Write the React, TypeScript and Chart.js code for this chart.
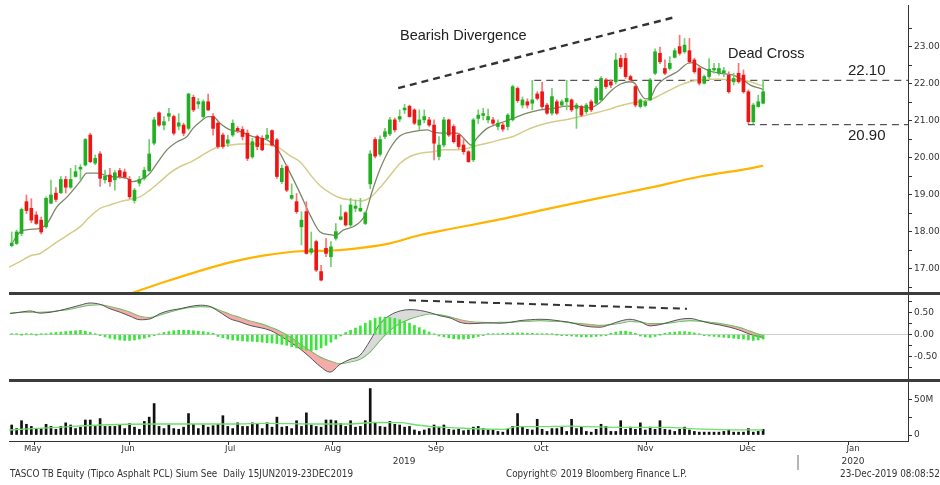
import React, { useEffect, useRef } from "react";
import { Chart, registerables } from "chart.js";

Chart.register(...registerables);

const FONT = '"DejaVu Sans", Verdana, sans-serif';
const ANNO_FONT = '"Liberation Sans", Arial, sans-serif';

// x axis is the trading-day index
const X_MIN = -0.55;
const X_MAX = 182.5;

// ---------- candles ----------
const opens = [
  17.63,17.69,17.96,18.82,18.64,18.46,18.32,18.14,18.78,19.05,
  19.06,19.42,19.21,19.5,19.70,19.81,20.62,19.86,20.11,19.41,
  19.54,19.41,19.66,19.62,19.42,18.85,19.32,19.45,19.66,20.4,
  21.22,20.89,21.13,21.12,20.86,20.89,20.8,21.64,21.46,21.12,
  21.52,21.12,20.94,20.62,20.4,20.62,20.8,20.77,20.67,20.03,
  20.58,20.53,20.53,20.74,20.49,19.36,19.77,18.91,18.82,18.14,
  18.55,17.45,17.74,16.93,17.56,17.33,17.83,18.34,18.52,18.19,
  18.64,18.57,18.23,19.3,20.5,20.1,20.58,20.65,21.03,21.05,
  21.3,21.4,21.3,20.89,21.03,21.03,20.89,20.04,20.35,21.03,
  20.85,20.62,20.35,20.17,19.95,21.07,21.15,21.03,21.03,20.85,
  20.89,20.85,21.03,21.88,21.43,21.52,21.48,21.73,21.79,21.43,
  21.21,21.52,21.43,21.52,21.57,21.34,21.39,21.25,21.52,21.48,
  21.57,22.11,22.06,22.06,22.69,22.69,22.2,21.93,21.39,21.42,
  21.57,22.29,22.83,22.42,22.42,22.72,23.01,22.87,22.9,22.65,
  22.42,22.02,22.2,22.38,22.29,22.3,22.24,22.06,22.29,22.24,
  21.79,20.98,21.39,21.48,
];
const highs = [
  18.0,18.05,18.65,19.0,18.9,18.55,18.4,18.95,19.4,19.2,
  19.5,19.5,19.72,19.8,19.82,20.53,20.67,20.08,20.17,19.67,
  19.72,19.66,19.72,19.7,19.5,19.18,19.5,19.75,20.5,21.1,
  21.25,21.12,21.34,21.16,21.2,20.94,21.75,21.7,21.61,21.57,
  21.73,21.2,20.98,20.67,20.62,21.03,20.85,20.85,20.76,20.53,
  20.62,20.6,20.8,20.76,20.53,19.81,19.81,19.3,19.04,18.55,
  18.82,18.0,17.78,17.1,17.82,17.74,18.23,18.73,18.55,18.91,
  18.86,18.91,18.55,20.2,20.55,20.6,20.8,21.1,21.08,21.3,
  21.45,21.43,21.33,21.3,21.3,21.1,21.03,20.58,21.1,21.05,
  20.9,20.66,20.5,20.2,21.07,21.3,21.34,21.32,21.1,21.03,
  20.95,21.2,21.97,21.92,21.65,21.6,22.1,21.79,22.05,21.48,
  21.88,21.57,21.57,22.1,21.6,21.48,21.43,21.48,21.57,21.93,
  22.2,22.15,22.11,22.83,22.78,22.83,22.24,21.97,21.6,21.56,
  22.15,22.95,23.0,22.65,22.74,22.96,23.32,23.23,23.23,22.7,
  22.47,22.24,22.69,22.56,22.56,22.45,22.33,22.29,22.56,22.38,
  21.84,21.48,21.7,22.1,
];
const lows = [
  17.6,17.66,17.9,18.5,18.25,18.2,17.95,18.1,18.76,18.82,
  19.04,19.05,19.18,19.48,19.4,19.78,19.87,19.82,19.23,19.32,
  19.23,19.13,19.45,19.45,18.9,18.78,19.24,19.4,19.63,20.35,
  20.85,20.76,21.0,20.62,20.76,20.6,20.76,21.25,21.34,21.07,
  21.28,20.62,20.26,20.26,20.31,20.58,20.68,20.49,19.93,19.99,
  20.22,20.2,20.49,20.32,19.45,19.31,19.09,18.88,18.5,17.65,
  17.4,17.4,16.93,16.68,17.33,17.06,17.78,18.32,18.16,18.14,
  18.55,18.55,18.2,19.17,20.0,20.05,20.52,20.6,20.7,20.98,
  21.2,21.1,20.9,20.76,20.95,20.85,19.95,19.95,20.3,20.58,
  20.4,20.25,20.1,19.88,19.9,20.93,21.03,20.95,20.9,20.76,
  20.72,20.76,21.0,21.5,21.35,21.35,21.3,21.57,21.34,21.18,
  21.16,21.18,21.39,21.3,21.25,20.8,21.12,21.2,21.25,21.43,
  21.52,21.88,21.9,22.0,22.42,22.15,22.06,21.38,21.35,21.38,
  21.55,22.25,22.55,22.25,22.38,22.7,22.78,22.83,22.56,22.29,
  21.97,22.0,22.15,22.29,22.24,22.2,21.75,21.97,22.02,21.75,
  20.93,20.92,21.37,21.46,
];
const closes = [
  17.70,18.0,18.61,18.58,18.32,18.23,18.0,18.91,19.0,18.88,
  19.42,19.21,19.42,19.63,19.75,20.5,19.9,19.99,19.45,19.51,
  19.36,19.6,19.5,19.48,18.95,19.13,19.42,19.67,20.11,21.03,
  20.89,20.98,21.2,20.67,20.95,20.67,21.73,21.3,21.52,21.52,
  21.3,20.8,20.31,20.31,20.49,20.94,20.74,20.58,19.99,20.44,
  20.31,20.22,20.62,20.35,19.5,19.72,19.13,18.99,18.55,18.32,
  17.42,17.55,16.97,16.7,17.42,17.6,18.01,18.41,18.19,18.73,
  18.7,18.64,18.52,20.11,20.05,20.5,20.71,21.03,20.76,21.12,
  21.35,21.12,20.94,21.03,21.12,20.89,20.4,20.35,21.03,20.62,
  20.44,20.31,20.17,19.9,21.03,21.16,21.2,21.12,20.94,20.94,
  20.78,21.16,21.93,21.55,21.57,21.43,21.57,21.61,21.39,21.21,
  21.66,21.21,21.52,21.61,21.3,21.43,21.16,21.43,21.3,21.88,
  22.15,21.93,21.97,22.65,22.47,22.2,22.11,21.43,21.57,21.52,
  22.11,22.87,22.6,22.29,22.56,22.9,22.83,23.05,22.6,22.33,
  22.02,22.2,22.4,22.42,22.42,22.36,21.79,22.15,22.06,21.79,
  20.98,21.43,21.52,21.79,
];

// ---------- moving averages (day index, value) ----------
const maShortK = [0,1.7,3.7,5.8,7.2,9.2,11.3,13.9,15.3,17.4,20.0,23.5,24.5,26.1,27.8,29.6,31.6,33.7,35.7,36.9,38.4,40.0,41.0,42.4,44.5,46.5,49.1,52.0,54.0,56.7,58.7,60.8,62.8,64.8,66.0,67.5,69.5,71.9,73.4,75.0,77.0,79.1,81.7,84.6,85.8,87.8,90.7,92.7,93.5,94.8,96.8,99.4,102.1,104.9,107.6,110.3,113.1,115.7,117.8,119.8,121.9,124.0,126.0,127.0,128.0,129.0,130.0,131.2,133.0,135.5,137.7,138.8,140.2,142.2,144.3,146.9,148.9,150.4,152.4,153.0];
const maShortV = [17.68,18.0,18.07,18.1,18.23,18.68,18.95,19.36,19.59,19.59,19.5,19.45,19.36,19.41,19.54,19.86,20.22,20.44,20.58,20.8,20.98,21.12,21.12,20.94,20.76,20.71,20.58,20.49,20.26,19.59,19.05,18.45,18.0,17.93,17.91,18.05,18.14,18.45,19.1,19.7,20.25,20.6,20.71,20.76,20.7,20.67,20.67,20.44,20.35,20.55,20.8,20.94,21.07,21.21,21.3,21.34,21.4,21.39,21.36,21.5,21.8,22.0,22.06,22.0,21.75,21.6,21.62,21.93,22.15,22.33,22.56,22.58,22.47,22.35,22.29,22.24,22.11,21.97,21.88,21.85];

const maMidK = [-0.55,1.7,3.7,5.8,7.8,9.8,11.9,13.9,15.9,18.0,20.0,22.1,24.1,26.1,28.2,30.2,32.2,34.3,36.3,38.4,40.4,42.4,44.5,46.5,50.6,52.6,54.6,56.7,58.7,60.8,62.8,64.8,66.9,68.9,71.3,72.9,75.0,77.0,79.1,81.1,83.2,85.8,87.8,90.7,92.7,94.0,96.8,99.4,102.1,104.9,107.6,110.3,113.1,115.7,118.4,121.2,123.9,126.0,128.0,130.0,132.0,134.1,136.1,138.1,140.2,142.2,144.3,146.3,148.3,150.4,152.4,153.0];
const maMidV = [17.05,17.2,17.35,17.42,17.6,17.78,17.96,18.14,18.41,18.64,18.73,18.82,18.88,18.95,19.14,19.36,19.59,19.77,19.88,20.04,20.2,20.31,20.35,20.38,20.38,20.36,20.26,20.06,19.9,19.55,19.25,19.06,18.92,18.87,18.84,18.92,19.2,19.52,19.86,20.04,20.13,20.17,20.22,20.22,20.26,20.31,20.4,20.49,20.58,20.76,20.89,20.98,21.04,21.12,21.2,21.3,21.41,21.48,21.52,21.57,21.7,21.84,21.97,22.06,22.11,22.13,22.13,22.11,22.11,22.06,21.97,21.95];

const maLongK = [18.0,24.7,31.4,38.3,45.1,51.2,58.7,65.4,71.1,77.2,83.2,89.3,99.4,109.6,119.8,130.0,140.2,150.4,153.0];
const maLongV = [16.05,16.36,16.66,16.95,17.2,17.36,17.48,17.5,17.57,17.7,17.92,18.08,18.34,18.64,18.92,19.2,19.5,19.72,19.79];

// ---------- annotations ----------
const divergenceK = [78.7, 135.1];
const divergenceP = [21.89, 23.81];
const resistanceK = [106.4, X_MAX];
const resistanceLevel = 22.1;
const supportK = [149.9, X_MAX];
const supportLevel = 20.9;
const macdDivK = [80.9, 137.5];
const macdDivV = [0.78, 0.59];

// ---------- MACD ----------
const macdK = [-0.3,1.7,3.7,5.8,7.8,9.8,11.9,13.9,15.9,18.0,20.0,22.1,24.1,26.1,28.2,30.2,32.2,34.3,36.3,38.4,40.4,42.4,44.5,46.5,48.5,50.6,52.6,54.6,56.7,58.7,60.7,62.8,64.8,66.9,68.9,70.9,73.0,75.0,77.0,79.1,81.1,83.2,85.2,87.2,89.3,91.3,93.3,95.4,97.4,99.4,101.5,103.5,105.6,107.6,109.6,111.7,113.7,115.7,117.8,119.8,121.8,123.9,125.9,127.9,130.0,132.0,134.0,136.1,138.1,140.1,142.2,144.2,146.2,148.3,150.3,152.3,153.0];
const macdV = [0.48,0.51,0.54,0.49,0.51,0.55,0.61,0.67,0.72,0.69,0.59,0.51,0.42,0.34,0.36,0.48,0.55,0.59,0.64,0.67,0.64,0.51,0.36,0.29,0.21,0.16,0.10,-0.02,-0.17,-0.32,-0.51,-0.72,-0.85,-0.67,-0.56,-0.47,-0.13,0.25,0.44,0.54,0.57,0.55,0.50,0.43,0.38,0.28,0.25,0.26,0.27,0.26,0.28,0.32,0.34,0.35,0.34,0.31,0.28,0.22,0.18,0.17,0.23,0.31,0.35,0.30,0.20,0.23,0.29,0.35,0.37,0.32,0.26,0.22,0.17,0.10,0.01,-0.05,-0.06];
const signalV = [0.49,0.51,0.51,0.51,0.52,0.55,0.58,0.63,0.67,0.68,0.64,0.58,0.51,0.42,0.39,0.45,0.52,0.58,0.62,0.64,0.63,0.55,0.46,0.39,0.31,0.25,0.17,0.08,-0.05,-0.21,-0.36,-0.51,-0.60,-0.66,-0.62,-0.56,-0.39,-0.13,0.10,0.26,0.36,0.43,0.47,0.45,0.40,0.34,0.30,0.28,0.27,0.28,0.28,0.30,0.31,0.32,0.31,0.30,0.27,0.25,0.23,0.21,0.23,0.26,0.30,0.29,0.25,0.25,0.27,0.30,0.32,0.31,0.28,0.25,0.21,0.16,0.08,0.00,-0.02];
const histV = [
  0.01,0.01,0.0,0.01,0.02,0.0,0.01,0.02,
  0.04,0.05,0.06,0.07,0.08,0.09,0.1,
  0.08,0.05,0.02,-0.02,
  -0.05,-0.08,-0.1,-0.12,-0.13,-0.13,-0.12,-0.1,-0.08,-0.05,
  -0.02,0.02,0.05,0.07,0.09,0.1,0.1,0.1,0.09,0.08,0.07,0.05,0.03,
  -0.04,-0.07,-0.1,-0.12,-0.13,-0.14,-0.15,-0.15,-0.16,-0.17,-0.18,-0.19,-0.2,-0.22,-0.24,-0.27,-0.3,-0.33,-0.35,-0.36,-0.34,-0.3,-0.24,-0.17,-0.1,
  -0.03,0.05,0.1,0.15,0.2,0.26,0.32,0.37,0.4,0.4,0.39,0.37,0.34,0.3,0.26,0.21,0.16,0.11,0.06,0.02,
  -0.03,-0.05,-0.07,-0.09,-0.1,-0.1,-0.09,-0.07,-0.04,-0.02,
  0.01,0.02,0.02,0.03,0.03,0.04,0.04,0.04,0.03,0.03,0.02,0.02,0.01,0.01,0.0,-0.01,-0.01,
  -0.03,-0.04,-0.05,-0.05,-0.05,-0.04,-0.03,-0.01,
  0.03,0.06,0.08,0.08,0.06,0.03,
  -0.03,-0.05,-0.06,-0.04,
  0.0,0.03,0.05,0.06,0.07,0.07,0.06,0.04,0.02,
  -0.02,-0.03,-0.04,-0.05,-0.06,-0.07,-0.08,-0.09,-0.1,-0.12,-0.13,-0.12,-0.1,
];

// ---------- volume (millions) ----------
const volumes = [
  14,9,20,15,12,8,9,15,12,8, 12,17,14,9,11,21,21,12,23,12,
  12,12,14,9,16,11,8,19,25,44, 12,9,14,9,8,11,30,15,9,14,
  11,13,15,27,12,9,17,12,12,17, 15,9,17,11,25,11,12,9,20,12,
  31,14,12,11,21,21,20,16,12,20, 11,12,20,65,17,12,11,19,15,14,
  11,12,7,5,7,9,14,11,14,8, 7,8,6,7,
  11,12,9,7,7,5,4,8,12,30, 12,8,7,22,8,5,9,9,11,5,
  22,9,11,5,4,8,15,12,5,5, 20,8,11,8,17,7,11,8,20,8,
  7,5,8,11,7,5,4,4,4,4, 4,5,7,4,4,4,9,4,5,8,
];
const volMaK = [-0.5,11.2,18,29.5,45.1,51.9,62.1,68.9,73.6,79.1,82.5,85.9,92.6,100.1,102.8,106.9,113.7,117.1,123.9,134,137.4,144.2,153];
const volMaV = [7,11.5,14,15.4,15.4,16.3,15.4,15.4,17.5,17.2,14,11.6,9.3,7.9,11.6,11.6,12.5,11.6,10.7,10.7,9.3,7.5,7];

// ---------- axes ----------
const priceTicks = [16.5,17,17.5,18,18.5,19,19.5,20,20.5,21,21.5,22,22.5,23,23.5];
const priceLabelled = [17,18,19,20,21,22,23];
const macdTicks = [-0.75,-0.5,-0.25,0,0.25,0.5,0.75];
const macdLabelled = [-0.5,0,0.5];
const volTicks = [0,25,50];
const volLabels = { 0: "0", 50: "50M" };
const monthBoundaries = [14.3,33.5,54.6,76.0,97.0,118.6,140.0,160.2];
const monthLabelPos = [4.3,23.7,44.5,65.4,86.4,107.8,129.0,149.8,171.3];
const monthLabels = ["May","Jun","Jul","Aug","Sep","Oct","Nov","Dec","Jan"];
const yearLabelPos = [79.9,171.3];
const yearLabels = ["2019","2020"];

const pts = (ks: number[], vs: number[]) => ks.map((k, i) => ({ x: k, y: vs[i] }));

const GREEN = "#22b022";
const RED = "#ee1515";

const baseOpts = (top: number, bottom: number) => ({
  responsive: false,
  animation: false,
  devicePixelRatio: 1,
  events: [],
  layout: { autoPadding: false, padding: { left: 9, right: 0, top, bottom } },
  plugins: { legend: { display: false }, tooltip: { enabled: false } },
});

const hiddenX = { type: "linear", min: X_MIN, max: X_MAX, display: false, offset: false };

const rightAxis = (min: number, max: number, ticks: number[], label: (v: number) => string) => ({
  type: "linear",
  position: "right",
  min,
  max,
  afterBuildTicks: (s: any) => { s.ticks = ticks.map((v) => ({ value: v })); },
  afterFit: (s: any) => { s.width = 32; s.paddingTop = 0; s.paddingBottom = 0; },
  ticks: {
    autoSkip: false,
    padding: 2,
    color: "#333",
    font: { family: FONT, size: 9 },
    callback: (v: number) => label(v),
  },
  grid: { drawOnChartArea: false, drawTicks: true, tickLength: 4, tickColor: "#333", tickWidth: 1 },
  border: { display: true, color: "#333", width: 1 },
});

function priceConfig(): any {
  const idx = opens.map((_, i) => i);
  const up = idx.map((i) => closes[i] >= opens[i]);
  return {
    type: "bar",
    data: {
      datasets: [
        {
          type: "bar",
          data: idx.map((i) => ({ x: i, y: [opens[i], closes[i]] })),
          backgroundColor: up.map((u) => (u ? GREEN : RED)),
          barThickness: 3,
          minBarLength: 1.5,
          grouped: false,
        },
        {
          type: "bar",
          data: idx.map((i) => ({ x: i, y: [lows[i], highs[i]] })),
          backgroundColor: up.map((u) => (u ? "#6fd06f" : "#ff7070")),
          barThickness: 1,
          grouped: false,
        },
        { type: "line", data: pts(maShortK, maShortV), borderColor: "#7c8867", borderWidth: 1.3, pointRadius: 0, cubicInterpolationMode: "monotone" },
        { type: "line", data: pts(maMidK, maMidV), borderColor: "#d5cc88", borderWidth: 1.5, pointRadius: 0, cubicInterpolationMode: "monotone" },
        { type: "line", data: pts(maLongK, maLongV), borderColor: "#ffb400", borderWidth: 2.2, pointRadius: 0, cubicInterpolationMode: "monotone" },
        { type: "line", data: pts(divergenceK, divergenceP), borderColor: "#333", borderWidth: 2.4, borderDash: [7, 5], pointRadius: 0 },
        { type: "line", data: pts(resistanceK, [resistanceLevel, resistanceLevel]), borderColor: "#555", borderWidth: 1.2, borderDash: [7, 5], pointRadius: 0 },
        { type: "line", data: pts(supportK, [supportLevel, supportLevel]), borderColor: "#555", borderWidth: 1.2, borderDash: [7, 5], pointRadius: 0 },
      ],
    },
    options: {
      ...baseOpts(5, 0),
      scales: {
        x: hiddenX,
        y: rightAxis(16.378, 24.135, priceTicks, (v) => (priceLabelled.includes(v) ? v.toFixed(2) : "")),
      },
    },
  };
}

function macdConfig(): any {
  const y = rightAxis(-1.007, 0.902, macdTicks, (v) => (macdLabelled.includes(v) ? v.toFixed(2) : ""));
  (y as any).grid = {
    drawOnChartArea: true,
    drawTicks: true,
    tickLength: 4,
    tickColor: "#333",
    color: (c: any) => (c.tick && c.tick.value === 0 ? "#cfcfcf" : "rgba(0,0,0,0)"),
  };
  return {
    type: "bar",
    data: {
      datasets: [
        {
          type: "bar",
          data: histV.map((v, i) => ({ x: i, y: v })),
          backgroundColor: "#39e639",
          barThickness: 2,
          minBarLength: 1,
          grouped: false,
        },
        {
          type: "line",
          data: pts(macdK, macdV),
          borderColor: "#555",
          borderWidth: 1,
          pointRadius: 0,
          cubicInterpolationMode: "monotone",
          fill: { target: 2, above: "rgba(205,205,205,0.75)", below: "rgba(244,150,150,0.8)" },
        },
        { type: "line", data: pts(macdK, signalV), borderColor: "#55c255", borderWidth: 1.2, pointRadius: 0, cubicInterpolationMode: "monotone" },
        { type: "line", data: pts(macdDivK, macdDivV), borderColor: "#333", borderWidth: 2, borderDash: [7, 5], pointRadius: 0 },
      ],
    },
    options: {
      ...baseOpts(0, 0),
      scales: { x: hiddenX, y },
    },
  };
}

function volConfig(): any {
  return {
    type: "bar",
    data: {
      datasets: [
        {
          type: "bar",
          order: 1,
          data: volumes.map((v, i) => ({ x: i, y: v })),
          backgroundColor: "#111",
          barThickness: 2,
          grouped: false,
        },
        { type: "line", order: 0, data: pts(volMaK, volMaV), borderColor: "#6ee06e", borderWidth: 1.3, pointRadius: 0, cubicInterpolationMode: "monotone" },
      ],
    },
    options: {
      ...baseOpts(0, 17),
      scales: {
        x: {
          type: "linear",
          min: X_MIN,
          max: X_MAX,
          position: "bottom",
          offset: false,
          afterBuildTicks: (s: any) => { s.ticks = monthBoundaries.map((v) => ({ value: v })); },
          afterFit: (s: any) => { s.height = 4; s.paddingLeft = 0; s.paddingRight = 0; },
          ticks: { display: false },
          grid: { drawOnChartArea: false, drawTicks: true, tickLength: 4, tickColor: "#333" },
          border: { display: true, color: "#333", width: 1 },
        },
        xl: {
          type: "linear",
          min: X_MIN,
          max: X_MAX,
          position: "bottom",
          offset: false,
          afterBuildTicks: (s: any) => { s.ticks = monthLabelPos.map((v) => ({ value: v })); },
          afterFit: (s: any) => { s.height = 10; s.paddingLeft = 0; s.paddingRight = 0; },
          ticks: {
            autoSkip: false,
            maxRotation: 0,
            padding: 0,
            color: "#333",
            font: { family: FONT, size: 8.5, lineHeight: 1 },
            callback: (_v: number, i: number) => monthLabels[i],
          },
          grid: { display: false, drawTicks: false },
          border: { display: false },
        },
        xy: {
          type: "linear",
          min: X_MIN,
          max: X_MAX,
          position: "bottom",
          offset: false,
          afterBuildTicks: (s: any) => { s.ticks = yearLabelPos.map((v) => ({ value: v })); },
          afterFit: (s: any) => { s.height = 13; s.paddingLeft = 0; s.paddingRight = 0; },
          ticks: {
            autoSkip: false,
            maxRotation: 0,
            padding: 2.5,
            color: "#333",
            font: { family: FONT, size: 9, lineHeight: 1 },
            callback: (_v: number, i: number) => yearLabels[i],
          },
          grid: { display: false, drawTicks: false },
          border: { display: false },
        },
        y: rightAxis(-8.4, 74.2, volTicks, (v) => (volLabels as any)[v] ?? ""),
      },
    },
  };
}

let measureCtx: CanvasRenderingContext2D | null = null;
function measure(text: string, font: string) {
  if (!measureCtx) measureCtx = document.createElement("canvas").getContext("2d");
  if (!measureCtx) return 0;
  measureCtx.font = font;
  return measureCtx.measureText(text).width;
}

function FitText({ text, left, top, width, size }: { text: string; left: number; top: number; width: number; size: number }) {
  const w = measure(text, `${size}px ${FONT}`);
  const sx = w > 0 ? width / w : 1;
  return (
    <div
      style={{
        position: "absolute",
        left,
        top,
        fontFamily: FONT,
        fontSize: size,
        lineHeight: 1,
        whiteSpace: "pre",
        color: "#333",
        transform: `scaleX(${sx})`,
        transformOrigin: "left top",
      }}
    >
      {text}
    </div>
  );
}

const label = (text: string, left: number, top: number, size: number) => (
  <div style={{ position: "absolute", left, top, fontFamily: ANNO_FONT, fontSize: size, lineHeight: 1, color: "#222", whiteSpace: "pre" }}>
    {text}
  </div>
);

export default function App() {
  const r1 = useRef<HTMLCanvasElement>(null);
  const r2 = useRef<HTMLCanvasElement>(null);
  const r3 = useRef<HTMLCanvasElement>(null);

  useEffect(() => {
    Chart.defaults.font.family = FONT;
    const c1 = new Chart(r1.current as HTMLCanvasElement, priceConfig());
    const c2 = new Chart(r2.current as HTMLCanvasElement, macdConfig());
    const c3 = new Chart(r3.current as HTMLCanvasElement, volConfig());
    return () => {
      c1.destroy();
      c2.destroy();
      c3.destroy();
    };
  }, []);

  return (
    <div style={{ position: "fixed", left: 0, top: 0, width: 940, height: 485, background: "#fff", overflow: "hidden" }}>
      <canvas ref={r1} width={940} height={292} style={{ position: "absolute", left: 0, top: 0 }} />
      <canvas ref={r2} width={940} height={84} style={{ position: "absolute", left: 0, top: 295 }} />
      <canvas ref={r3} width={940} height={103} style={{ position: "absolute", left: 0, top: 382 }} />

      <div style={{ position: "absolute", left: 9, top: 292, width: 931, height: 3, background: "#3c3c3c" }} />
      <div style={{ position: "absolute", left: 9, top: 379, width: 931, height: 3, background: "#3c3c3c" }} />
      <div style={{ position: "absolute", left: 797, top: 455, width: 2, height: 15, background: "#b5b5b5" }} />

      {label("Bearish Divergence", 400, 28, 14.5)}
      {label("Dead Cross", 728, 46, 14.5)}
      {label("22.10", 848, 62, 15)}
      {label("20.90", 848, 127, 15)}

      <FitText text="TASCO TB Equity (Tipco Asphalt PCL) Sium See  Daily 15JUN2019-23DEC2019" left={10} top={469} width={343} size={10} />
      <FitText text="Copyright© 2019 Bloomberg Finance L.P." left={506} top={469} width={181} size={10} />
      <FitText text="23-Dec-2019 08:08:52" left={840} top={469} width={100} size={10} />
    </div>
  );
}
